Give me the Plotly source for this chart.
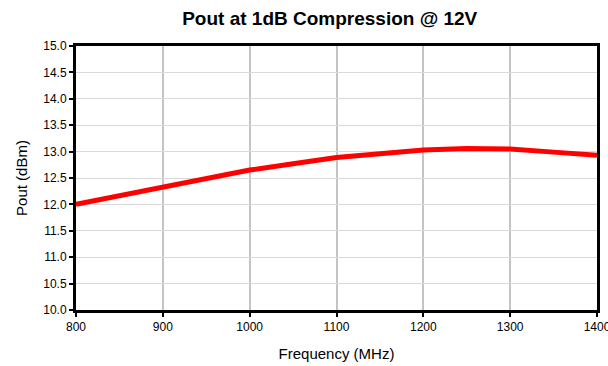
import plotly.graph_objects as go

# Output power at 1 dB compression, 12 V supply
freq_mhz = [800, 850, 900, 950, 1000, 1050, 1100, 1150, 1200, 1250, 1300, 1350, 1400]
pout_dbm = [12.00, 12.16, 12.33, 12.49, 12.65, 12.77, 12.89, 12.96, 13.03, 13.06, 13.05, 12.99, 12.93]

x_ticks = [800, 900, 1000, 1100, 1200, 1300, 1400]
y_ticks = [10.0, 10.5, 11.0, 11.5, 12.0, 12.5, 13.0, 13.5, 14.0, 14.5, 15.0]

fig = go.Figure()
fig.add_trace(go.Scatter(
    x=freq_mhz, y=pout_dbm, mode="lines",
    line=dict(color="#FF0000", width=5),
    showlegend=False,
))

font_family = "Liberation Sans, Arial, sans-serif"

fig.update_layout(
    width=608, height=366,
    margin=dict(l=76, r=11, t=46, b=56),
    paper_bgcolor="white", plot_bgcolor="white",
    font=dict(family=font_family, color="black", size=12),
    title=dict(
        text="<b>Pout at 1dB Compression @ 12V</b>",
        x=0.487, xref="paper", xanchor="center",
        y=1 - 18 / 366, yref="container", yanchor="middle",
        font=dict(size=19, family=font_family, color="black"),
    ),
)

fig.update_xaxes(
    range=[800, 1400], tickvals=x_ticks, automargin=False,
    ticklabeloverflow="allow",
    showgrid=True, gridcolor="#C4C4C4", gridwidth=2,
    showline=True, linecolor="black", linewidth=3, mirror=True,
    ticks="outside", ticklen=4, tickcolor="black", tickwidth=2,
    title=dict(text="Frequency (MHz)", font=dict(size=15), standoff=16),
    zeroline=False,
)
fig.update_yaxes(
    range=[10.0, 15.0], tickvals=y_ticks, tickformat=".1f", automargin=False,
    showgrid=True, gridcolor="#DADADA", gridwidth=1,
    showline=True, linecolor="black", linewidth=3, mirror=True,
    ticks="outside", ticklen=4, tickcolor="black", tickwidth=2,
    title=dict(text="Pout (dBm)", font=dict(size=15), standoff=12),
    zeroline=False,
)

fig.write_html("out.html")
